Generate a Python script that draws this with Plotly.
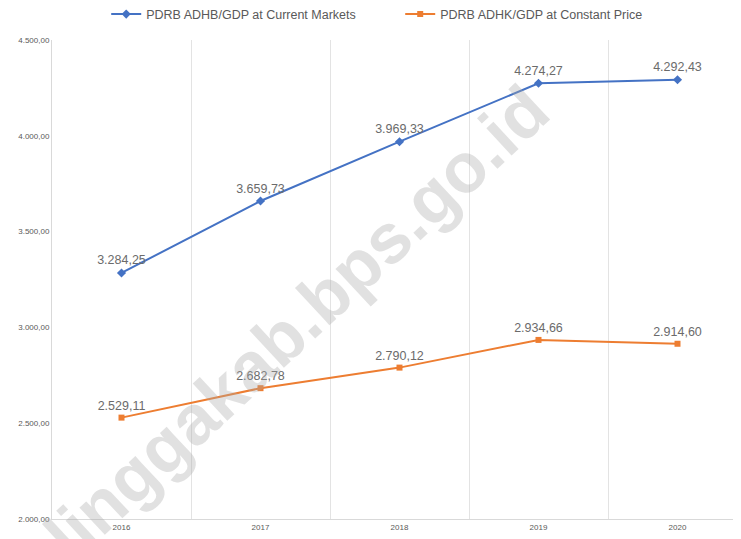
import plotly.graph_objects as go

years = ["2016", "2017", "2018", "2019", "2020"]
adhb = [3284.25, 3659.73, 3969.33, 4274.27, 4292.43]
adhk = [2529.11, 2682.78, 2790.12, 2934.66, 2914.60]
adhb_labels = ["3.284,25", "3.659,73", "3.969,33", "4.274,27", "4.292,43"]
adhk_labels = ["2.529,11", "2.682,78", "2.790,12", "2.934,66", "2.914,60"]
y_ticks = [2000, 2500, 3000, 3500, 4000, 4500]
y_ticktext = ["2.000,00", "2.500,00", "3.000,00", "3.500,00", "4.000,00", "4.500,00"]

label_font = dict(family="Liberation Sans, Arial, sans-serif", size=12.5, color="#6b6b6b")

fig = go.Figure()
fig.add_trace(go.Scatter(
    x=years, y=adhb, mode="lines+markers+text",
    name="PDRB ADHB/GDP at Current Markets",
    line=dict(color="#4472C4", width=2),
    marker=dict(symbol="diamond", size=7, color="#4472C4"),
    text=adhb_labels, textposition="top center", textfont=label_font,
    cliponaxis=False,
))
fig.add_trace(go.Scatter(
    x=years, y=adhk, mode="lines+markers+text",
    name="PDRB ADHK/GDP at Constant Price",
    line=dict(color="#ED7D31", width=2),
    marker=dict(symbol="square", size=6, color="#ED7D31"),
    text=adhk_labels, textposition="top center", textfont=label_font,
    cliponaxis=False,
))

fig.add_annotation(
    text="linggakab.bps.go.id", xref="paper", yref="paper",
    x=0.352, y=0.41, xanchor="center", yanchor="middle",
    showarrow=False, textangle=-43,
    font=dict(family="Liberation Sans, Arial, sans-serif", size=70, color="rgba(170,170,170,0.35)", weight="bold"),
)

fig.update_layout(
    width=741, height=539,
    margin=dict(l=44, r=2, t=32, b=28),
    paper_bgcolor="white", plot_bgcolor="white",
    font=dict(family="Liberation Sans, Arial, sans-serif", color="#595959"),
    showlegend=True,
    legend=dict(orientation="h", x=0.078, xanchor="left", y=0.988, yref="container",
                yanchor="middle", font=dict(size=12.5, color="#595959"),
                itemwidth=30, entrywidth=249, tracegroupgap=0),
    xaxis=dict(
        type="category", range=[-0.5, 4.5], tickson="boundaries",
        showgrid=True, gridcolor="#e3e3e3", gridwidth=1,
        showline=True, linecolor="#d9d9d9", ticks="",
        tickfont=dict(size=8, color="#595959"), zeroline=False,
    ),
    yaxis=dict(
        range=[2000, 4500], tickvals=y_ticks, ticktext=y_ticktext,
        showgrid=False, showline=True, linecolor="#d9d9d9",
        tickfont=dict(size=8, color="#595959"), zeroline=False, ticks="",
    ),
)

fig.write_html("out.html")
